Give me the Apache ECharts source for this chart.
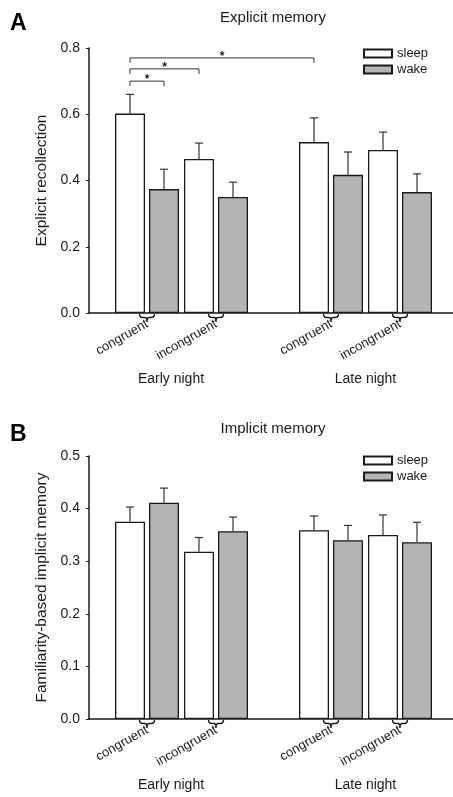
<!DOCTYPE html>
<html>
<head>
<meta charset="utf-8">
<script src="https://cdn.jsdelivr.net/npm/echarts@6/dist/echarts.min.js"></script>
<style>
  html, body { margin: 0; padding: 0; background: #fff; }
  #chart { width: 453px; height: 797px; }
</style>
</head>
<body>
<div id="chart"></div>
<script>
const groups = ['Early night', 'Late night']
const conditions = ['congruent', 'incongruent']
const seriesNames = ['sleep', 'wake']

// order: early congruent, early incongruent, late congruent, late incongruent
const explicitSleep = [0.602, 0.465, 0.516, 0.492]
const explicitSleepErr = [0.058, 0.048, 0.073, 0.054]
const explicitWake = [0.374, 0.350, 0.417, 0.365]
const explicitWakeErr = [0.060, 0.045, 0.069, 0.055]

const implicitSleep = [0.375, 0.318, 0.359, 0.350]
const implicitSleepErr = [0.028, 0.027, 0.027, 0.038]
const implicitWake = [0.411, 0.357, 0.340, 0.336]
const implicitWakeErr = [0.028, 0.027, 0.028, 0.038]

const explicitTicks = [0, 0.2, 0.4, 0.6, 0.8]
const implicitTicks = [0, 0.1, 0.2, 0.3, 0.4, 0.5]

// significance brackets in panel A: [group, condition, series] -> [group, condition, series]
const sigFrom = [[0, 0, 0], [0, 0, 0], [0, 0, 0]]
const sigTo = [[0, 0, 1], [0, 1, 0], [1, 0, 0]]
const sigLevel = [0.70, 0.737, 0.77]

const FONT = 'Liberation Sans, Arial, sans-serif'
const INK = '#1a1a1a'
const BAR_W = 30
const OFFSET = 17

const panels = [
  {
    letter: 'A', title: 'Explicit memory', yName: 'Explicit recollection',
    ticks: explicitTicks, top: 48, height: 265, titleTop: 5, legendTop: 42,
    values: [explicitSleep, explicitWake], errors: [explicitSleepErr, explicitWakeErr]
  },
  {
    letter: 'B', title: 'Implicit memory', yName: 'Familiarity-based implicit memory',
    ticks: implicitTicks, top: 456, height: 263, titleTop: 416, legendTop: 449,
    values: [implicitSleep, implicitWake], errors: [implicitSleepErr, implicitWakeErr]
  }
]

const barStyles = [
  { color: '#ffffff', borderColor: INK, borderWidth: 1.3 },
  { color: '#b4b4b4', borderColor: INK, borderWidth: 1.3 }
]

function errorBar(offset) {
  return function (params, api) {
    const base = api.coord([api.value(0), api.value(1)])
    const top = api.coord([api.value(0), api.value(1) + api.value(2)])
    const x = base[0] + offset
    const style = { stroke: '#333', lineWidth: 1.2 }
    return {
      type: 'group',
      children: [
        { type: 'line', shape: { x1: x, y1: base[1], x2: x, y2: top[1] }, style },
        { type: 'line', shape: { x1: x - 4, y1: top[1], x2: x + 4, y2: top[1] }, style }
      ]
    }
  }
}

function brace(params, api) {
  const p = api.coord([api.value(0), 0])
  const cx = p[0], y = p[1]
  const d = 'M' + (cx - 7.5) + ',' + (y + 1) +
    ' Q' + (cx - 7.5) + ',' + (y + 4.5) + ' ' + (cx - 4) + ',' + (y + 4.5) +
    ' L' + (cx - 2) + ',' + (y + 4.5) +
    ' Q' + cx + ',' + (y + 4.5) + ' ' + cx + ',' + (y + 9) +
    ' Q' + cx + ',' + (y + 4.5) + ' ' + (cx + 2) + ',' + (y + 4.5) +
    ' L' + (cx + 4) + ',' + (y + 4.5) +
    ' Q' + (cx + 7.5) + ',' + (y + 4.5) + ' ' + (cx + 7.5) + ',' + (y + 1)
  return {
    type: 'path',
    shape: { pathData: d },
    style: { fill: 'none', stroke: INK, lineWidth: 1.4 }
  }
}

const option = {
  animation: false,
  backgroundColor: '#fff',
  textStyle: { fontFamily: FONT, color: INK },
  title: [],
  legend: [],
  grid: [],
  xAxis: [],
  yAxis: [],
  series: []
}

panels.forEach((p, pi) => {
  const base = pi * 3
  const max = p.ticks[p.ticks.length - 1]
  const step = p.ticks[1] - p.ticks[0]

  option.title.push(
    { text: p.letter, left: 5, top: p.titleTop + 2, textStyle: { fontSize: 23, fontWeight: 'bold', color: '#000', fontFamily: FONT } },
    { text: p.title, left: 268, top: p.titleTop, textAlign: 'center', textStyle: { fontSize: 15, fontWeight: 'normal', color: INK, fontFamily: FONT } }
  )

  option.legend.push({
    data: seriesNames, left: 358, top: p.legendTop, orient: 'vertical',
    icon: 'rect', itemWidth: 28, itemHeight: 8, itemGap: 3, selectedMode: false,
    textStyle: { fontSize: 13, color: INK, fontFamily: FONT }
  })

  // main grid: y axis and the baseline
  option.grid.push({ left: 89, right: 0, top: p.top, height: p.height })
  option.xAxis.push({
    type: 'value', gridIndex: base, min: 0, max: 1,
    axisLine: { show: true, lineStyle: { color: INK, width: 1.5 } },
    axisTick: { show: false }, axisLabel: { show: false }, splitLine: { show: false }
  })
  option.yAxis.push({
    type: 'value', gridIndex: base, min: 0, max: max, interval: step,
    name: p.yName, nameLocation: 'middle', nameGap: 38,
    nameTextStyle: { fontSize: 15.5, color: INK, fontFamily: FONT },
    axisLine: { show: true, lineStyle: { color: INK, width: 1.5 } },
    axisTick: { show: true, length: 3, lineStyle: { color: INK } },
    axisLabel: { fontSize: 14, color: INK, margin: 9, formatter: v => v.toFixed(1) },
    splitLine: { show: false }
  })

  // one grid per night group
  groups.forEach((g, gi) => {
    const idx = base + 1 + gi
    option.grid.push({ left: gi === 0 ? 112.5 : 296.5, width: 138, top: p.top, height: p.height })
    option.xAxis.push({
      type: 'category', gridIndex: idx, data: conditions,
      name: g, nameLocation: 'middle', nameGap: 59,
      nameTextStyle: { fontSize: 14, color: INK, fontFamily: FONT, padding: gi === 0 ? [0, 21, 0, 0] : 0 },
      axisLine: { show: false }, axisTick: { show: false },
      axisLabel: { interval: 0, rotate: 30, fontSize: 13, color: INK, margin: 10 }
    })
    option.yAxis.push({ type: 'value', gridIndex: idx, min: 0, max: max, show: false })

    seriesNames.forEach((s, si) => {
      const vals = p.values[si].slice(gi * 2, gi * 2 + 2)
      const errs = p.errors[si].slice(gi * 2, gi * 2 + 2)
      option.series.push({
        type: 'bar', name: s, xAxisIndex: idx, yAxisIndex: idx,
        data: vals, barWidth: BAR_W, barGap: '13.3%',
        itemStyle: barStyles[si]
      })
      option.series.push({
        type: 'custom', name: s + ' error', xAxisIndex: idx, yAxisIndex: idx, z: 3,
        data: vals.map((v, i) => [i, v, errs[i]]),
        renderItem: errorBar(si === 0 ? -OFFSET : OFFSET), silent: true
      })
    })

    option.series.push({
      type: 'custom', name: 'brace', xAxisIndex: idx, yAxisIndex: idx, z: 3,
      data: conditions.map((c, i) => [i]), renderItem: brace, silent: true
    })
  })
})

const chart = echarts.init(document.getElementById('chart'), null, { renderer: 'canvas' })
chart.setOption(option)

// significance brackets, placed through the group grids' scales
const graphics = []
sigFrom.forEach((f, i) => {
  const t = sigTo[i]
  const a = chart.convertToPixel({ gridIndex: 1 + f[0] }, [f[1], sigLevel[i]])
  const b = chart.convertToPixel({ gridIndex: 1 + t[0] }, [t[1], sigLevel[i]])
  const x1 = a[0] + (f[2] === 0 ? -OFFSET : OFFSET)
  const x2 = b[0] + (t[2] === 0 ? -OFFSET : OFFSET)
  const y = a[1]
  graphics.push({
    type: 'polyline', silent: true,
    shape: { points: [[x1, y + 5], [x1, y], [x2, y], [x2, y + 5]] },
    style: { fill: 'none', stroke: '#333', lineWidth: 1 }
  })
  graphics.push({
    type: 'text', silent: true, x: (x1 + x2) / 2, y: y - 1,
    style: { text: '*', fill: INK, font: 'bold 12px ' + FONT, align: 'center', verticalAlign: 'middle' }
  })
})
chart.setOption({ graphic: graphics })
</script>
</body>
</html>
